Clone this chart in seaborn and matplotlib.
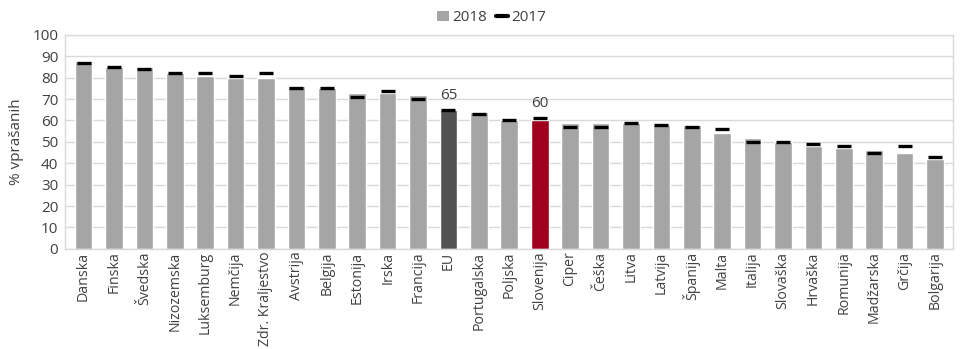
import matplotlib
matplotlib.use("Agg")
import matplotlib.pyplot as plt
import seaborn as sns
import pandas as pd
from matplotlib.patches import Patch
from matplotlib.lines import Line2D

countries = ["Danska", "Finska", "Švedska", "Nizozemska", "Luksemburg", "Nemčija",
             "Zdr. Kraljestvo", "Avstrija", "Belgija", "Estonija", "Irska", "Francija",
             "EU", "Portugalska", "Poljska", "Slovenija", "Ciper", "Češka", "Litva",
             "Latvija", "Španija", "Malta", "Italija", "Slovaška", "Hrvaška", "Romunija",
             "Madžarska", "Grčija", "Bolgarija"]
vals_2018 = [88, 85, 85, 82, 81, 80, 80, 76, 75, 73, 73, 72, 65, 64, 60, 60, 59, 59, 59,
             58, 58, 54, 52, 50, 48, 47, 46, 45, 42]
vals_2017 = [87, 85, 84, 82, 82, 81, 82, 75, 75, 71, 74, 70, 65, 63, 60, 61, 57, 57, 59,
             58, 57, 56, 50, 50, 49, 48, 45, 48, 43]
labelled = {"EU": 65, "Slovenija": 60}

df = pd.DataFrame({"country": countries, "y2018": vals_2018, "y2017": vals_2017})

sns.set_theme(style="white")
plt.rcParams["font.family"] = ["Open Sans", "DejaVu Sans"]

bar_grey = "#A5A5A5"
text_col = "#404040"
palette = {c: bar_grey for c in countries}
palette["EU"] = "#525252"
palette["Slovenija"] = "#A0001E"

fig, ax = plt.subplots(figsize=(9.6, 3.49), dpi=100)
fig.subplots_adjust(left=0.068, right=0.993, top=0.90, bottom=0.287)

sns.barplot(data=df, x="country", y="y2018", hue="country", palette=palette,
            order=countries, width=0.58, legend=False, saturation=1, ax=ax, zorder=2)
sns.scatterplot(data=df, x="country", y="y2017", marker="_", s=95, linewidth=2.4,
                color="black", ax=ax, zorder=3)

for name, v in labelled.items():
    i = countries.index(name)
    ax.annotate(f"{v}", xy=(i, df.loc[i, ["y2018", "y2017"]].max()), xytext=(0, 5),
                textcoords="offset points", ha="center", va="bottom", fontsize=11,
                color=text_col)

ax.set_ylim(0, 100)
ax.set_yticks(range(0, 101, 10))
ax.set_xlim(-0.6, len(countries) - 0.4)
ax.yaxis.grid(True, color="#D9D9D9", linewidth=1, zorder=0)
ax.set_axisbelow(True)
for s in ax.spines.values():
    s.set_color("#D9D9D9")
    s.set_linewidth(1)
ax.set_xlabel("")
ax.set_ylabel("% vprašanih", fontsize=11, color=text_col, labelpad=6)
ax.tick_params(axis="x", rotation=90, labelsize=10.2, colors=text_col, length=0, pad=2)
ax.tick_params(axis="y", labelsize=11, colors=text_col, length=0, pad=5)

handles = [Patch(facecolor=bar_grey, edgecolor="none"),
           Line2D([0], [0], color="black", linewidth=3)]
fig.legend(handles, ["2018", "2017"], loc="upper center", bbox_to_anchor=(0.512, 1.01),
           ncol=2, frameon=False, fontsize=11, handlelength=0.8, handleheight=0.7,
           columnspacing=0.6, handletextpad=0.2, labelcolor=text_col)

fig.savefig("out.png", dpi=100)
